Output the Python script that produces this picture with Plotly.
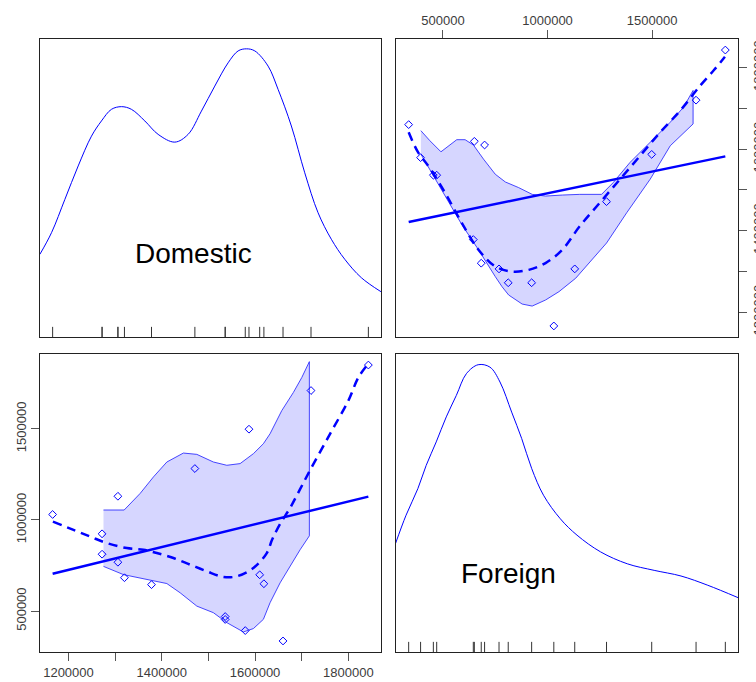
import numpy as np
import plotly.graph_objects as go

# ---------------- data ----------------
domestic = [1166000, 1272000, 1272000, 1306000, 1306000, 1320000, 1378000, 1471000, 1536000,
            1536000, 1579000, 1587000, 1610000, 1619000, 1660000, 1720000, 1843000]
foreign = [1030000, 924000, 812000, 1130000, 768000, 683000, 645000, 1282000, 470000,
           454000, 393000, 1498000, 699000, 650000, 336000, 1710000, 1850000]

# density of Domestic (relative height)
dom_dens_x = [1138700, 1163600, 1192300, 1220800, 1249300, 1270700, 1292100, 1313600, 1335000,
              1363700, 1392200, 1428000, 1456500, 1485000, 1513700, 1542200, 1563700, 1581500,
              1599500, 1628000, 1649400, 1677900, 1706600, 1735100, 1763600, 1792300, 1827900, 1870000]
dom_dens_y = [0.2775, 0.350, 0.462, 0.574, 0.674, 0.725, 0.764, 0.773, 0.764, 0.725, 0.680, 0.654,
              0.680, 0.758, 0.842, 0.920, 0.960, 0.967, 0.960, 0.909, 0.831, 0.708, 0.551, 0.417,
              0.328, 0.261, 0.199, 0.152]

# density of Foreign (relative height)
for_dens_x = [272600, 323500, 379800, 419700, 467800, 515900, 563900, 612000, 668300, 724500,
              772600, 828400, 876500, 924500, 980800, 1061100, 1140900, 1253400, 1381300,
              1509700, 1638100, 1766000, 1912000]
for_dens_y = [0.363, 0.459, 0.548, 0.626, 0.705, 0.789, 0.861, 0.934, 0.964, 0.956, 0.906, 0.805,
              0.716, 0.615, 0.526, 0.447, 0.392, 0.336, 0.296, 0.274, 0.255, 0.224, 0.182]

# smoother of Domestic on Foreign (top-right panel)
tr_smooth_f = [336000, 381200, 429300, 509600, 589900, 669700, 750000, 830300, 910100, 990400,
               1070700, 1153900, 1250000, 1346200, 1442400, 1538500, 1634700, 1730800, 1794800, 1848000]
tr_smooth_d = [1641200, 1591900, 1558800, 1493100, 1419000, 1353100, 1311900, 1299500, 1303700,
               1320300, 1353100, 1410600, 1468400, 1525900, 1583500, 1641200, 1694600, 1756300,
               1793300, 1826400]

# spread band (top-right panel): upper edge left->right, then lower edge right->left
tr_band_f = [394200, 437500, 490400, 525500, 565900, 605800, 645700, 693800, 750000, 798100, 862000,
             926500, 990400, 1070700, 1153900, 1258200, 1314000, 1394300, 1490500, 1586600, 1650600,
             1695800,
             1695800, 1586600, 1490500, 1378400, 1282300, 1186100, 1134700, 1054400, 990400, 926500,
             878400, 814000, 782200, 750000, 669700, 589900, 509600, 445700, 394200]
tr_band_d = [1645200, 1620500, 1593300, 1608100, 1623000, 1623000, 1609900, 1575300, 1538300,
             1519300, 1505400, 1488900, 1484700, 1487200, 1488900, 1488900, 1517800, 1567200,
             1616500, 1665900, 1703000, 1743900,
             1661700, 1608100, 1525900, 1443700, 1369600, 1311900, 1283200, 1250100, 1229700,
             1214800, 1219800, 1242000, 1262500, 1287200, 1353100, 1414800, 1484700, 1542500, 1587700]

# smoother of Foreign on Domestic (bottom-left panel)
bl_smooth_d = [1166600, 1210700, 1246500, 1282300, 1325100, 1360700, 1389400, 1425000, 1460800,
               1496600, 1532200, 1560900, 1596500, 1625200, 1636500, 1653700, 1675100, 1696600,
               1718000, 1760900, 1800000, 1821500, 1840800]
bl_smooth_f = [990700, 945500, 908900, 872900, 845700, 836400, 818400, 791100, 754600, 718100,
               687500, 690800, 736600, 818400, 890900, 978200, 1065400, 1169000, 1272700, 1472800,
               1654400, 1781400, 1850700]

# spread band (bottom-left panel)
bl_band_d = [1275000, 1319400, 1353700, 1382200, 1410900, 1446400, 1475200, 1510700, 1539500,
             1568000, 1596500, 1617900, 1632200, 1657300, 1682200, 1700200, 1716500,
             1716500, 1696600, 1675100, 1653700, 1632200, 1617900, 1596500, 1575000, 1539500,
             1510700, 1475200, 1439400, 1410900, 1368000, 1317900, 1275000]
bl_band_f = [1054500, 1054500, 1145600, 1236100, 1317900, 1367000, 1359900, 1317900, 1299900,
             1309200, 1363700, 1418200, 1472800, 1599800, 1699600, 1781400, 1868600,
             912800, 836400, 745300, 654800, 545800, 454700, 404000, 385400, 436700,
             491200, 527200, 600300, 651000, 672800, 700100, 745300]

# tick labels
dom_tickvals = [1200000, 1300000, 1400000, 1500000, 1600000, 1700000, 1800000]
dom_ticktext = ["1200000", "", "1400000", "", "1600000", "", "1800000"]
for_tickvals = [500000, 1000000, 1500000]
for_ticktext = ["500000", "1000000", "1500000"]

# ---------------- styling ----------------
BLUE = "#0000FF"
FONT = "Liberation Sans, Arial, sans-serif"
TICKCOL = "#3c3c3c"
W, H = 756, 682


def pad_range(v):
    lo, hi = min(v), max(v)
    p = 0.04 * (hi - lo)
    return [lo - p, hi + p]


dom_range = pad_range(domestic)
for_range = pad_range(foreign)

xl = [40 / W, 381 / W]
xr = [396 / W, 738 / W]
yt = [1 - 337 / H, 1 - 39 / H]
yb = [1 - 652 / H, 1 - 354 / H]

fig = go.Figure()

# --- top-left: density of Domestic
fig.add_trace(go.Scatter(x=dom_dens_x, y=dom_dens_y, mode="lines", line=dict(color=BLUE, width=1, shape="spline"),
                         xaxis="x", yaxis="y", hoverinfo="skip"))

# --- top-right: Domestic (y) vs Foreign (x)
fig.add_trace(go.Scatter(x=tr_band_f, y=tr_band_d, mode="lines", fill="toself",
                         fillcolor="rgba(0,0,255,0.16)", line=dict(color="rgba(40,40,255,0.85)", width=1),
                         xaxis="x2", yaxis="y2"))
b = np.polyfit(foreign, domestic, 1)
fx = np.array([min(foreign), max(foreign)])
fig.add_trace(go.Scatter(x=fx, y=np.polyval(b, fx), mode="lines", line=dict(color=BLUE, width=2.5),
                         xaxis="x2", yaxis="y2"))
fig.add_trace(go.Scatter(x=tr_smooth_f, y=tr_smooth_d, mode="lines",
                         line=dict(color=BLUE, width=2.5, dash="9px,6px", shape="spline"),
                         xaxis="x2", yaxis="y2"))
fig.add_trace(go.Scatter(x=foreign, y=domestic, mode="markers",
                         marker=dict(symbol="diamond-open", size=6, color=BLUE, line=dict(width=1)),
                         xaxis="x2", yaxis="y2"))

# --- bottom-left: Foreign (y) vs Domestic (x)
fig.add_trace(go.Scatter(x=bl_band_d, y=bl_band_f, mode="lines", fill="toself",
                         fillcolor="rgba(0,0,255,0.16)", line=dict(color="rgba(40,40,255,0.85)", width=1),
                         xaxis="x3", yaxis="y3"))
b2 = np.polyfit(domestic, foreign, 1)
dx = np.array([min(domestic), max(domestic)])
fig.add_trace(go.Scatter(x=dx, y=np.polyval(b2, dx), mode="lines", line=dict(color=BLUE, width=2.5),
                         xaxis="x3", yaxis="y3"))
fig.add_trace(go.Scatter(x=bl_smooth_d, y=bl_smooth_f, mode="lines",
                         line=dict(color=BLUE, width=2.5, dash="9px,6px", shape="spline"),
                         xaxis="x3", yaxis="y3"))
fig.add_trace(go.Scatter(x=domestic, y=foreign, mode="markers",
                         marker=dict(symbol="diamond-open", size=6, color=BLUE, line=dict(width=1)),
                         xaxis="x3", yaxis="y3"))

# --- bottom-right: density of Foreign
fig.add_trace(go.Scatter(x=for_dens_x, y=for_dens_y, mode="lines", line=dict(color=BLUE, width=1, shape="spline"),
                         xaxis="x4", yaxis="y4", hoverinfo="skip"))

# rugs
shapes = []
for v in domestic:
    shapes.append(dict(type="line", xref="x", yref="y domain", x0=v, x1=v, y0=0, y1=0.034,
                       line=dict(color="#333333", width=1)))
for v in foreign:
    shapes.append(dict(type="line", xref="x4", yref="y4 domain", x0=v, x1=v, y0=0, y1=0.034,
                       line=dict(color="#333333", width=1)))

box = dict(showline=True, mirror=True, linecolor="#222222", linewidth=1, showgrid=False,
           zeroline=False, automargin=False)
tickstyle = dict(ticks="outside", ticklen=8, tickcolor="#555555", tickwidth=1,
                 tickfont=dict(family=FONT, size=13, color=TICKCOL))
noticks = dict(showticklabels=False, ticks="")

fig.update_layout(
    width=W, height=H, autosize=False, showlegend=False,
    margin=dict(l=0, r=0, t=0, b=0, pad=0),
    paper_bgcolor="white", plot_bgcolor="white",
    shapes=shapes,
    xaxis=dict(domain=xl, range=dom_range, anchor="y", **box, **noticks),
    yaxis=dict(domain=yt, range=[0, 1], anchor="x", **box, **noticks),
    xaxis2=dict(domain=xr, range=for_range, anchor="y2", side="top", tickvals=for_tickvals,
                ticktext=for_ticktext, **box, **tickstyle),
    yaxis2=dict(domain=yt, range=dom_range, anchor="x2", side="right", tickvals=dom_tickvals,
                ticktext=dom_ticktext, tickangle=-90, **box, **tickstyle),
    xaxis3=dict(domain=xl, range=dom_range, anchor="y3", side="bottom", tickvals=dom_tickvals,
                ticktext=dom_ticktext, **box, **tickstyle),
    yaxis3=dict(domain=yb, range=for_range, anchor="x3", side="left", tickvals=for_tickvals,
                ticktext=for_ticktext, tickangle=-90, **box, **tickstyle),
    xaxis4=dict(domain=xr, range=for_range, anchor="y4", **box, **noticks),
    yaxis4=dict(domain=yb, range=[0, 1], anchor="x4", **box, **noticks),
    annotations=[
        dict(text="Domestic", xref="x domain", yref="y domain", x=0.451, y=0.279, showarrow=False,
             xanchor="center", yanchor="middle", font=dict(family=FONT, size=28, color="black")),
        dict(text="Foreign", xref="x4 domain", yref="y4 domain", x=0.330, y=0.263, showarrow=False,
             xanchor="center", yanchor="middle", font=dict(family=FONT, size=28, color="black")),
    ],
)

fig.write_html("out.html", config={"displayModeBar": False},
               post_script="document.body.style.margin='0';document.body.style.overflow='hidden';")
